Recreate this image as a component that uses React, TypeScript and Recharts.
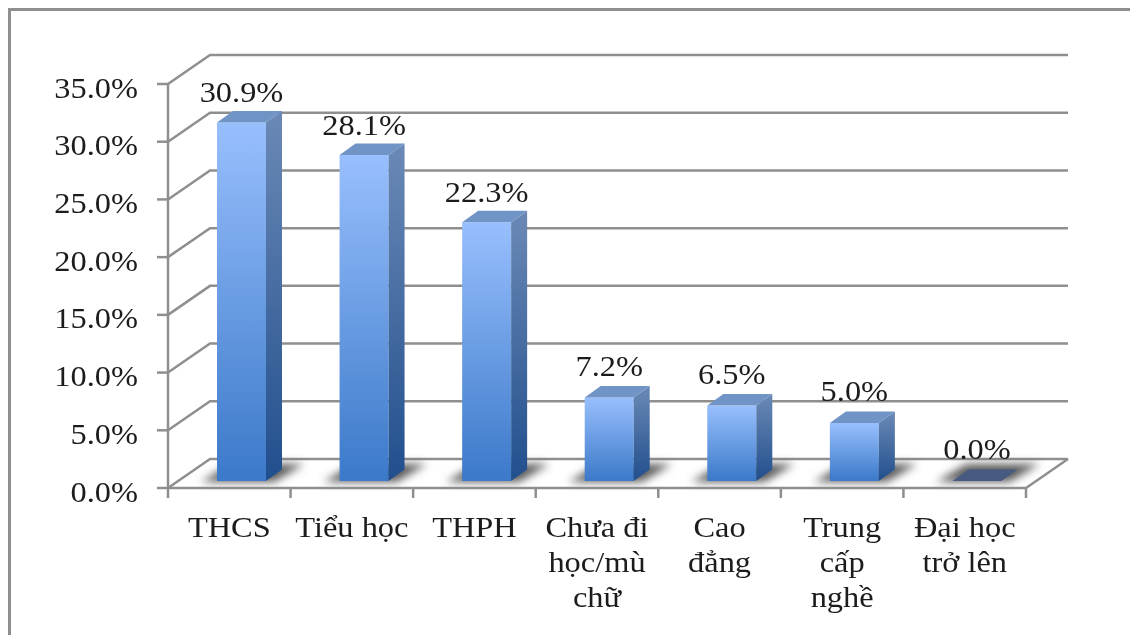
import React from 'react';
import { BarChart, Bar, XAxis, YAxis, CartesianGrid, LabelList } from 'recharts';

const categories = ['THCS', 'Tiểu học', 'THPH', 'Chưa đi\nhọc/mù\nchữ', 'Cao\nđẳng', 'Trung\ncấp\nnghề', 'Đại học\ntrở lên'];
const shares = [30.9, 28.1, 22.3, 7.2, 6.5, 5.0, 0.0];
const yTicks = [0, 5, 10, 15, 20, 25, 30, 35];

const chartData = categories.map((name, i) => ({ name, share: shares[i] }));

const LINE = '#8f8f8f';
const TEXT = '#1c1c1c';
const FONT = '"Liberation Serif", serif';
const BACK_X = 42;
const BACK_Y = 29;

// the source picture is stretched sideways, so the text is too
function WideText({ x, y, anchor, children }: any) {
  return (
    <text
      transform={`translate(${x},${y}) scale(1.08,1)`}
      textAnchor={anchor}
      fontFamily={FONT}
      fontSize={30}
      fill={TEXT}
    >
      {children}
    </text>
  );
}

function GridLine({ x1, x2, y1 }: any) {
  const backY = y1 - BACK_Y;
  return (
    <g>
      <polyline
        points={`${x1},${y1} ${x1 + BACK_X},${backY} ${x2 + BACK_X},${backY}`}
        fill="none"
        stroke={LINE}
        strokeWidth={2.5}
      />
      {y1 > 480 && (
        <line x1={x2} y1={y1} x2={x2 + BACK_X} y2={backY} stroke={LINE} strokeWidth={2.5} />
      )}
    </g>
  );
}

function Bar3D({ x, y, width, height }: any) {
  const dx = 16;
  const dy = 11.5;
  const left = x + 12;
  const right = left + width;
  const h = height * 1.005;
  const base = y + height - 7;
  const top = base - h;
  return (
    <g>
      <polygon
        points={`${left - 16},${base + 1} ${right + 8},${base + 1} ${right + 38},${base - 17} ${left + 14},${base - 17}`}
        fill="#5c5c5c"
        filter="url(#floorShadow)"
      />
      {h > 0 ? (
        <>
          <rect x={left} y={top} width={width} height={h} fill="url(#barFront)" />
          <polygon
            points={`${right},${top} ${right + dx},${top - dy} ${right + dx},${base - dy} ${right},${base}`}
            fill="url(#barSide)"
          />
        </>
      ) : null}
      <polygon
        points={`${left},${top} ${right},${top} ${right + dx},${top - dy} ${left + dx},${top - dy}`}
        fill={h > 0 ? '#7094c6' : '#475a82'}
      />
    </g>
  );
}

function ValueLabel({ x, y, width, value }: any) {
  return (
    <WideText x={x + width / 2 + 12} y={y - 29} anchor="middle">
      {`${Number(value).toFixed(1)}%`}
    </WideText>
  );
}

function YTick({ x, y, payload }: any) {
  return (
    <WideText x={x - 17} y={y + 13.5} anchor="end">
      {`${payload.value.toFixed(1)}%`}
    </WideText>
  );
}

function XTick({ x, y, payload, index }: any) {
  const band = 858 / categories.length;
  const lines = String(payload.value).split('\n');
  return (
    <g>
      <line x1={x - band / 2} y1={488} x2={x - band / 2} y2={498} stroke={LINE} strokeWidth={2.5} />
      {index === categories.length - 1 && (
        <line x1={x + band / 2} y1={488} x2={x + band / 2} y2={498} stroke={LINE} strokeWidth={2.5} />
      )}
      {lines.map((line, i) => (
        <WideText key={line} x={x} y={537 + i * 35} anchor="middle">
          {line}
        </WideText>
      ))}
    </g>
  );
}

export default function App() {
  return (
    <div style={{ position: 'absolute', left: 0, top: 0, width: 1130, height: 635, overflow: 'hidden', background: '#fff' }}>
      <div style={{ position: 'absolute', left: 8, top: 8, width: 1130, height: 640, borderLeft: `3px solid ${LINE}`, borderTop: `3px solid ${LINE}` }} />
      <div style={{ position: 'absolute', left: 0, top: 0, filter: 'blur(0.6px)' }}>
        <BarChart
          width={1130}
          height={635}
          data={chartData}
          margin={{ top: 84, right: 104, bottom: 0, left: 0 }}
          barSize={49}
          style={{ overflow: 'visible' }}
        >
          <defs>
            <linearGradient id="barFront" x1="0" y1="0" x2="0" y2="1">
              <stop offset="0%" stopColor="#98bffd" />
              <stop offset="100%" stopColor="#3b79c9" />
            </linearGradient>
            <linearGradient id="barSide" x1="0" y1="0" x2="0" y2="1">
              <stop offset="0%" stopColor="#6b89b6" />
              <stop offset="100%" stopColor="#214f8d" />
            </linearGradient>
            <filter id="floorShadow" filterUnits="userSpaceOnUse" x="0" y="430" width="1130" height="80">
              <feGaussianBlur stdDeviation="4.5" />
            </filter>
          </defs>
          <CartesianGrid horizontal={(props: any) => <GridLine key={props.key} {...props} />} vertical={false} />
          <XAxis
            dataKey="name"
            height={147}
            interval={0}
            tickLine={false}
            axisLine={{ stroke: LINE, strokeWidth: 2.5 }}
            tick={<XTick />}
          />
          <YAxis
            width={168}
            domain={[0, 35]}
            ticks={yTicks}
            tickSize={11}
            tickLine={{ stroke: LINE, strokeWidth: 2.5 }}
            axisLine={{ stroke: LINE, strokeWidth: 2.5 }}
            tick={<YTick />}
          />
          <Bar dataKey="share" shape={<Bar3D />} isAnimationActive={false}>
            <LabelList dataKey="share" content={<ValueLabel />} />
          </Bar>
        </BarChart>
      </div>
    </div>
  );
}
